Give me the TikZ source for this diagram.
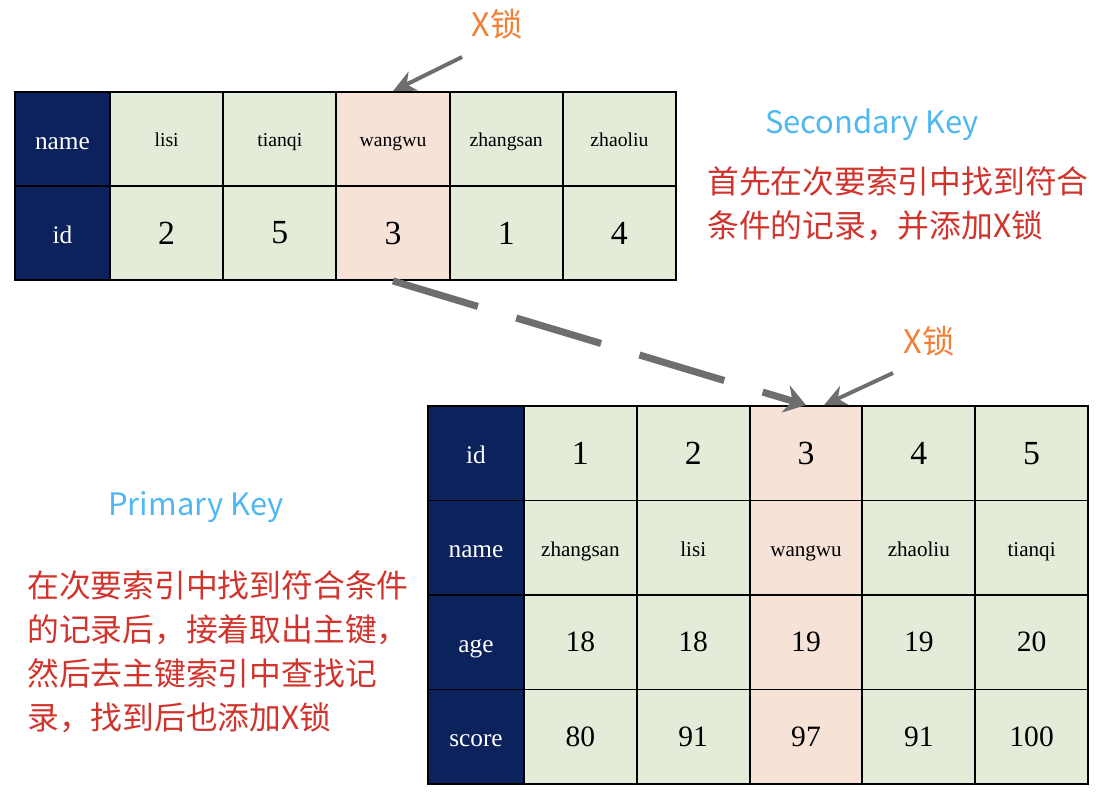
\documentclass[tikz,border=0pt]{standalone}
\usepackage{fontspec}
\setmainfont{Liberation Serif}
\newfontfamily\cjk{Noto Sans CJK SC}
\usetikzlibrary{arrows.meta,positioning}
\definecolor{HeadNavy}{RGB}{12,34,92}
\definecolor{CellGreen}{RGB}{227,236,217}
\definecolor{LockPink}{RGB}{247,226,216}
\definecolor{LockOrange}{RGB}{240,128,56}
\definecolor{KeyBlue}{RGB}{80,184,240}
\definecolor{NoteRed}{RGB}{208,52,44}
\definecolor{ArrowGray}{RGB}{110,110,110}
\tikzset{
  cellbox/.style={draw=black, line width=1.3pt, fill=CellGreen, inner sep=0pt},
  headbox/.style={cellbox, fill=HeadNavy, text=white},
  tcell/.style={minimum width=2.83cm, minimum height=2.35cm},
  thead/.style={minimum width=2.375cm, minimum height=2.35cm},
  pcell/.style={minimum width=2.82cm, minimum height=2.3625cm},
  phead/.style={minimum width=2.4cm, minimum height=2.3625cm},
  wordtext/.style={font=\fontsize{14}{16}\selectfont, text height=13pt, text depth=2pt},
  bigword/.style={font=\fontsize{15}{17}\selectfont, text height=14pt, text depth=2pt},
  headtext/.style={font=\fontsize{18}{20}\selectfont, text height=17pt, text depth=2.5pt},
  idtext/.style={font=\fontsize{24}{26}\selectfont},
  numtext/.style={font=\fontsize{21}{23}\selectfont},
  locklabel/.style={font=\cjk\fontsize{23}{26}\selectfont, text=LockOrange, inner sep=0pt},
  keylabel/.style={font=\cjk\fontsize{22}{26}\selectfont, text=KeyBlue, inner sep=0pt},
  notetext/.style={font=\cjk\fontsize{22.6}{31.3}\selectfont, text=NoteRed,
    align=left, inner sep=0pt},
  lockarrow/.style={-{Stealth[length=16pt,width=15pt]}, line width=2.8pt, draw=ArrowGray},
  jumparrow/.style={-{Stealth[length=15pt,width=20pt]}, line width=5pt, draw=ArrowGray,
    dash pattern=on 63pt off 28.5pt}
}
\begin{document}
\begin{tikzpicture}[x=0.025cm, y=-0.025cm]
\useasboundingbox (0,0) rectangle (1102,798);

% secondary index
\node[headbox, thead, headtext] (s-name) at (62.5,139) {name};
\node[headbox, thead, headtext] (s-id) at (62.5,233) {id};
\foreach \nm/\num [count=\i] in {lisi/2,tianqi/5,wangwu/3,zhangsan/1,zhaoliu/4}{
  \ifnum\i=3 \def\cellfill{LockPink}\else\def\cellfill{CellGreen}\fi
  \node[cellbox, tcell, wordtext, fill=\cellfill] (s-1-\i) at ({110+113.2*(\i-0.5)},139) {\nm};
  \node[cellbox, tcell, idtext, fill=\cellfill] (s-2-\i) at ({110+113.2*(\i-0.5)},233) {\num};
}

% primary index
\node[headbox, phead, headtext] (p-id) at (476,453.25) {id};
\node[headbox, phead, headtext] (p-name) at (476,547.75) {name};
\node[headbox, phead, headtext] (p-age) at (476,642.25) {age};
\node[headbox, phead, headtext] (p-score) at (476,736.75) {score};
\foreach \num/\nm/\age/\sc [count=\i] in {1/zhangsan/18/80,2/lisi/18/91,3/wangwu/19/97,4/zhaoliu/19/91,5/tianqi/20/100}{
  \ifnum\i=3 \def\cellfill{LockPink}\else\def\cellfill{CellGreen}\fi
  \node[cellbox, pcell, idtext, fill=\cellfill] (p-1-\i) at ({524+112.8*(\i-0.5)},453.25) {\num};
  \node[cellbox, pcell, bigword, fill=\cellfill] (p-2-\i) at ({524+112.8*(\i-0.5)},547.75) {\nm};
  \node[cellbox, pcell, numtext, fill=\cellfill] (p-3-\i) at ({524+112.8*(\i-0.5)},642.25) {\age};
  \node[cellbox, pcell, numtext, fill=\cellfill] (p-4-\i) at ({524+112.8*(\i-0.5)},736.75) {\sc};
}

% locks
\node[locklabel] (lock-s) at (497,24) {X锁};
\coordinate (lock-s-tail) at (462,57);
\draw[lockarrow] (lock-s-tail) -- (s-1-3.north);
\node[locklabel] (lock-p) at (929,341) {X锁};
\coordinate (lock-p-tail) at (893,373);
\coordinate (lock-p-tip) at ([xshift=0.45cm]p-1-3.north);
\draw[lockarrow] (lock-p-tail) -- (lock-p-tip);
\draw[jumparrow] (s-2-3.south) -- (p-1-3.north);

% notes
\node[keylabel] (sec-key) at (872,125) {Secondary Key};
\node[notetext, anchor=north west] (sec-note) at (707,166) {首先在次要索引中找到符合\\条件的记录，并添加X锁};
\node[keylabel] (pri-key) at (196,507) {Primary Key};
\node[notetext, anchor=north west] (pri-note) at (27,570) {在次要索引中找到符合条件\\的记录后，接着取出主键，\\然后去主键索引中查找记\\录，找到后也添加X锁};
\end{tikzpicture}
\end{document}
